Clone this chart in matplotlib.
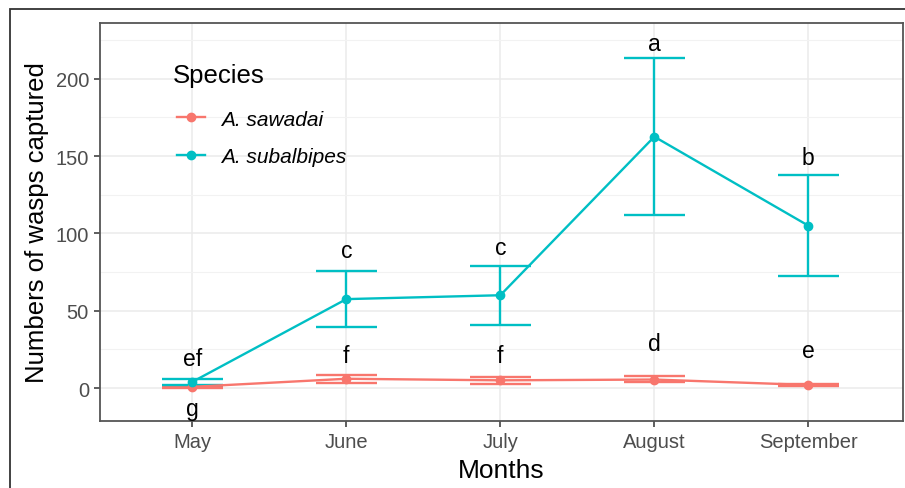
import matplotlib.pyplot as plt
import matplotlib.lines as mlines
import numpy as np

plt.rcParams['font.family'] = ['Liberation Sans', 'DejaVu Sans']

months = ['May', 'June', 'July', 'August', 'September']
species = ['A. sawadai', 'A. subalbipes']
colors = ['#F8766D', '#00BFC4']

# mean captures and lower/upper error limits per month
sawadai_mean = [0.8, 6.0, 5.0, 5.5, 2.0]
sawadai_low = [0.0, 3.4, 2.8, 3.8, 1.2]
sawadai_high = [1.6, 8.4, 7.2, 7.6, 2.8]

subalbipes_mean = [4.0, 57.5, 60.0, 162.5, 105.0]
subalbipes_low = [2.0, 39.5, 41.0, 112.0, 72.5]
subalbipes_high = [5.8, 75.8, 79.0, 213.5, 137.5]

# significance letters and where they sit
sawadai_letters = ['g', 'f', 'f', 'd', 'e']
sawadai_letter_y = [-13, 21, 21, 29, 24]
subalbipes_letters = ['ef', 'c', 'c', 'a', 'b']
subalbipes_letter_y = [19, 89, 91, 223, 149]

W, H = 905, 489
fig = plt.figure(figsize=(W / 100, H / 100), dpi=100)

# outer frame around the figure
frame = plt.Rectangle((10 / W, -0.05), 1.1, (H - 10) / H + 0.05, transform=fig.transFigure,
                      fill=False, edgecolor='#333333', linewidth=1.3)
fig.patches.append(frame)

ax = fig.add_axes([100 / W, (H - 422) / H, 803 / W, 398 / H])

x = np.arange(len(months))
series = [
    (sawadai_mean, sawadai_low, sawadai_high, sawadai_letters, sawadai_letter_y),
    (subalbipes_mean, subalbipes_low, subalbipes_high, subalbipes_letters, subalbipes_letter_y),
]

cap = 0.2
lw = 1.7
for (mean, low, high, letters, ly), c, name in zip(series, colors, species):
    ax.vlines(x, low, high, color=c, linewidth=lw, zorder=3)
    ax.hlines(low, x - cap, x + cap, color=c, linewidth=lw, zorder=3)
    ax.hlines(high, x - cap, x + cap, color=c, linewidth=lw, zorder=3)
    ax.plot(x, mean, color=c, linewidth=lw, marker='o', markersize=6, zorder=4, label=name)
    for xi, t, yi in zip(x, letters, ly):
        ax.text(xi, yi, t, ha='center', va='center', fontsize=16.5, color='black', zorder=5)

ax.set_xlim(-0.6, 4.615)
ax.set_ylim(-21.3, 236)
ax.set_xticks(x)
ax.set_xticklabels(months)
ax.set_yticks([0, 50, 100, 150, 200])
ax.set_yticks([25, 75, 125, 175, 225], minor=True)

ax.grid(which='major', color='#EBEBEB', linewidth=1.1, zorder=0)
ax.grid(which='minor', axis='y', color='#F2F2F2', linewidth=0.8, zorder=0)
ax.set_axisbelow(True)

ax.tick_params(axis='both', which='major', length=4, width=1.1, color='#333333',
               labelsize=14.5, labelcolor='#4D4D4D', pad=4)
ax.tick_params(axis='y', which='minor', length=0)
for s in ax.spines.values():
    s.set_color('#555555')
    s.set_linewidth(1.3)

ax.set_xlabel('Months', fontsize=19, labelpad=5)
ax.set_ylabel('Numbers of wasps captured', fontsize=18.5, labelpad=5)

# legend: title drawn separately so its gap to the keys can be set freely
ax.text(0.091, 0.8685, 'Species', transform=ax.transAxes, fontsize=18.5,
        ha='left', va='center')
handles = [mlines.Line2D([], [], color=c, marker='o', markersize=6, linewidth=lw) for c in colors]
leg = ax.legend(handles, species, loc='upper left',
                bbox_to_anchor=(0.096, 0.782), frameon=False,
                borderpad=0, borderaxespad=0,
                prop={'style': 'italic', 'size': 15},
                handlelength=1.35, handletextpad=0.75, labelspacing=0.88)

fig.savefig('out.png', dpi=100)
